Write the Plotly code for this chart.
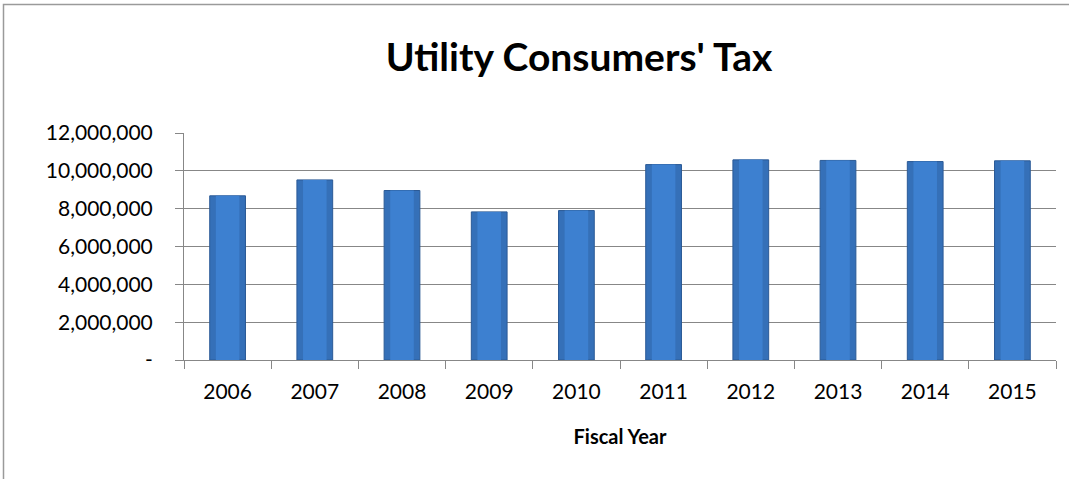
import plotly.graph_objects as go

# Fiscal years and utility consumers' tax revenue
years = ["2006", "2007", "2008", "2009", "2010", "2011", "2012", "2013", "2014", "2015"]
revenue = [8680000, 9520000, 8960000, 7830000, 7900000, 10330000, 10580000, 10550000, 10490000, 10530000]

# Y axis ticks (zero shown as a dash, accounting style)
y_tick_values = [0, 2000000, 4000000, 6000000, 8000000, 10000000, 12000000]
y_tick_labels = ["-", "2,000,000", "4,000,000", "6,000,000", "8,000,000", "10,000,000", "12,000,000"]

W, H = 1069, 479
ML, MR, MT, MB = 184, 13, 133, 119
plot_w = W - ML - MR
plot_h = H - MT - MB

fig = go.Figure()
# Bar body with a darker rim
fig.add_trace(go.Bar(
    x=years, y=revenue,
    width=0.41,
    marker=dict(color="#3570b8", line=dict(color="#2b5a96", width=1)),
    hoverinfo="x+y",
))
# Lighter centre band for a rounded, bevelled look
fig.add_trace(go.Bar(
    x=years, y=revenue,
    width=0.27,
    marker=dict(color="#3d80d0", line=dict(width=0)),
    hoverinfo="skip",
))

grid_col = "#878787"
fig.update_layout(
    width=W, height=H,
    margin=dict(l=ML, r=MR, t=MT, b=MB, pad=0),
    paper_bgcolor="white", plot_bgcolor="white",
    showlegend=False,
    barmode="overlay",
    font=dict(family="Lato, 'Open Sans', sans-serif", color="#000000", size=21),
    title=dict(
        text="<b>Utility Consumers' Tax</b>",
        x=579 / W, xref="container", xanchor="center",
        y=1 - 57 / H, yref="container", yanchor="middle",
        font=dict(family="Lato, sans-serif", size=39, color="#000000"),
    ),
)

fig.update_xaxes(
    type="category",
    showline=True, linecolor=grid_col, linewidth=1,
    ticks="outside", ticklen=8, tickcolor=grid_col, tickwidth=1,
    tickson="boundaries",
    showgrid=False,
    ticklabelstandoff=13,
    tickfont=dict(size=21),
    title=dict(text="<b>Fiscal Year</b>", font=dict(size=20), standoff=27),
)
fig.update_yaxes(
    range=[0, 12000000],
    tickvals=y_tick_values, ticktext=y_tick_labels,
    showline=True, linecolor=grid_col, linewidth=1,
    ticks="outside", ticklen=8, tickcolor=grid_col, tickwidth=1,
    showgrid=True, gridcolor=grid_col, gridwidth=1,
    zeroline=False,
    ticklabelstandoff=18,
    tickfont=dict(size=21),
)

# Outer chart-area frame
fig.add_shape(
    type="rect", xref="paper", yref="paper",
    x0=(3.5 - ML) / plot_w, x1=(W + 40 - ML) / plot_w,
    y0=-(H + 40 - MT - plot_h) / plot_h, y1=(MT + plot_h - 4.5) / plot_h,
    line=dict(color="#9a9a9a", width=1.5), fillcolor="rgba(0,0,0,0)", layer="below",
)

fig.write_html("out.html")
